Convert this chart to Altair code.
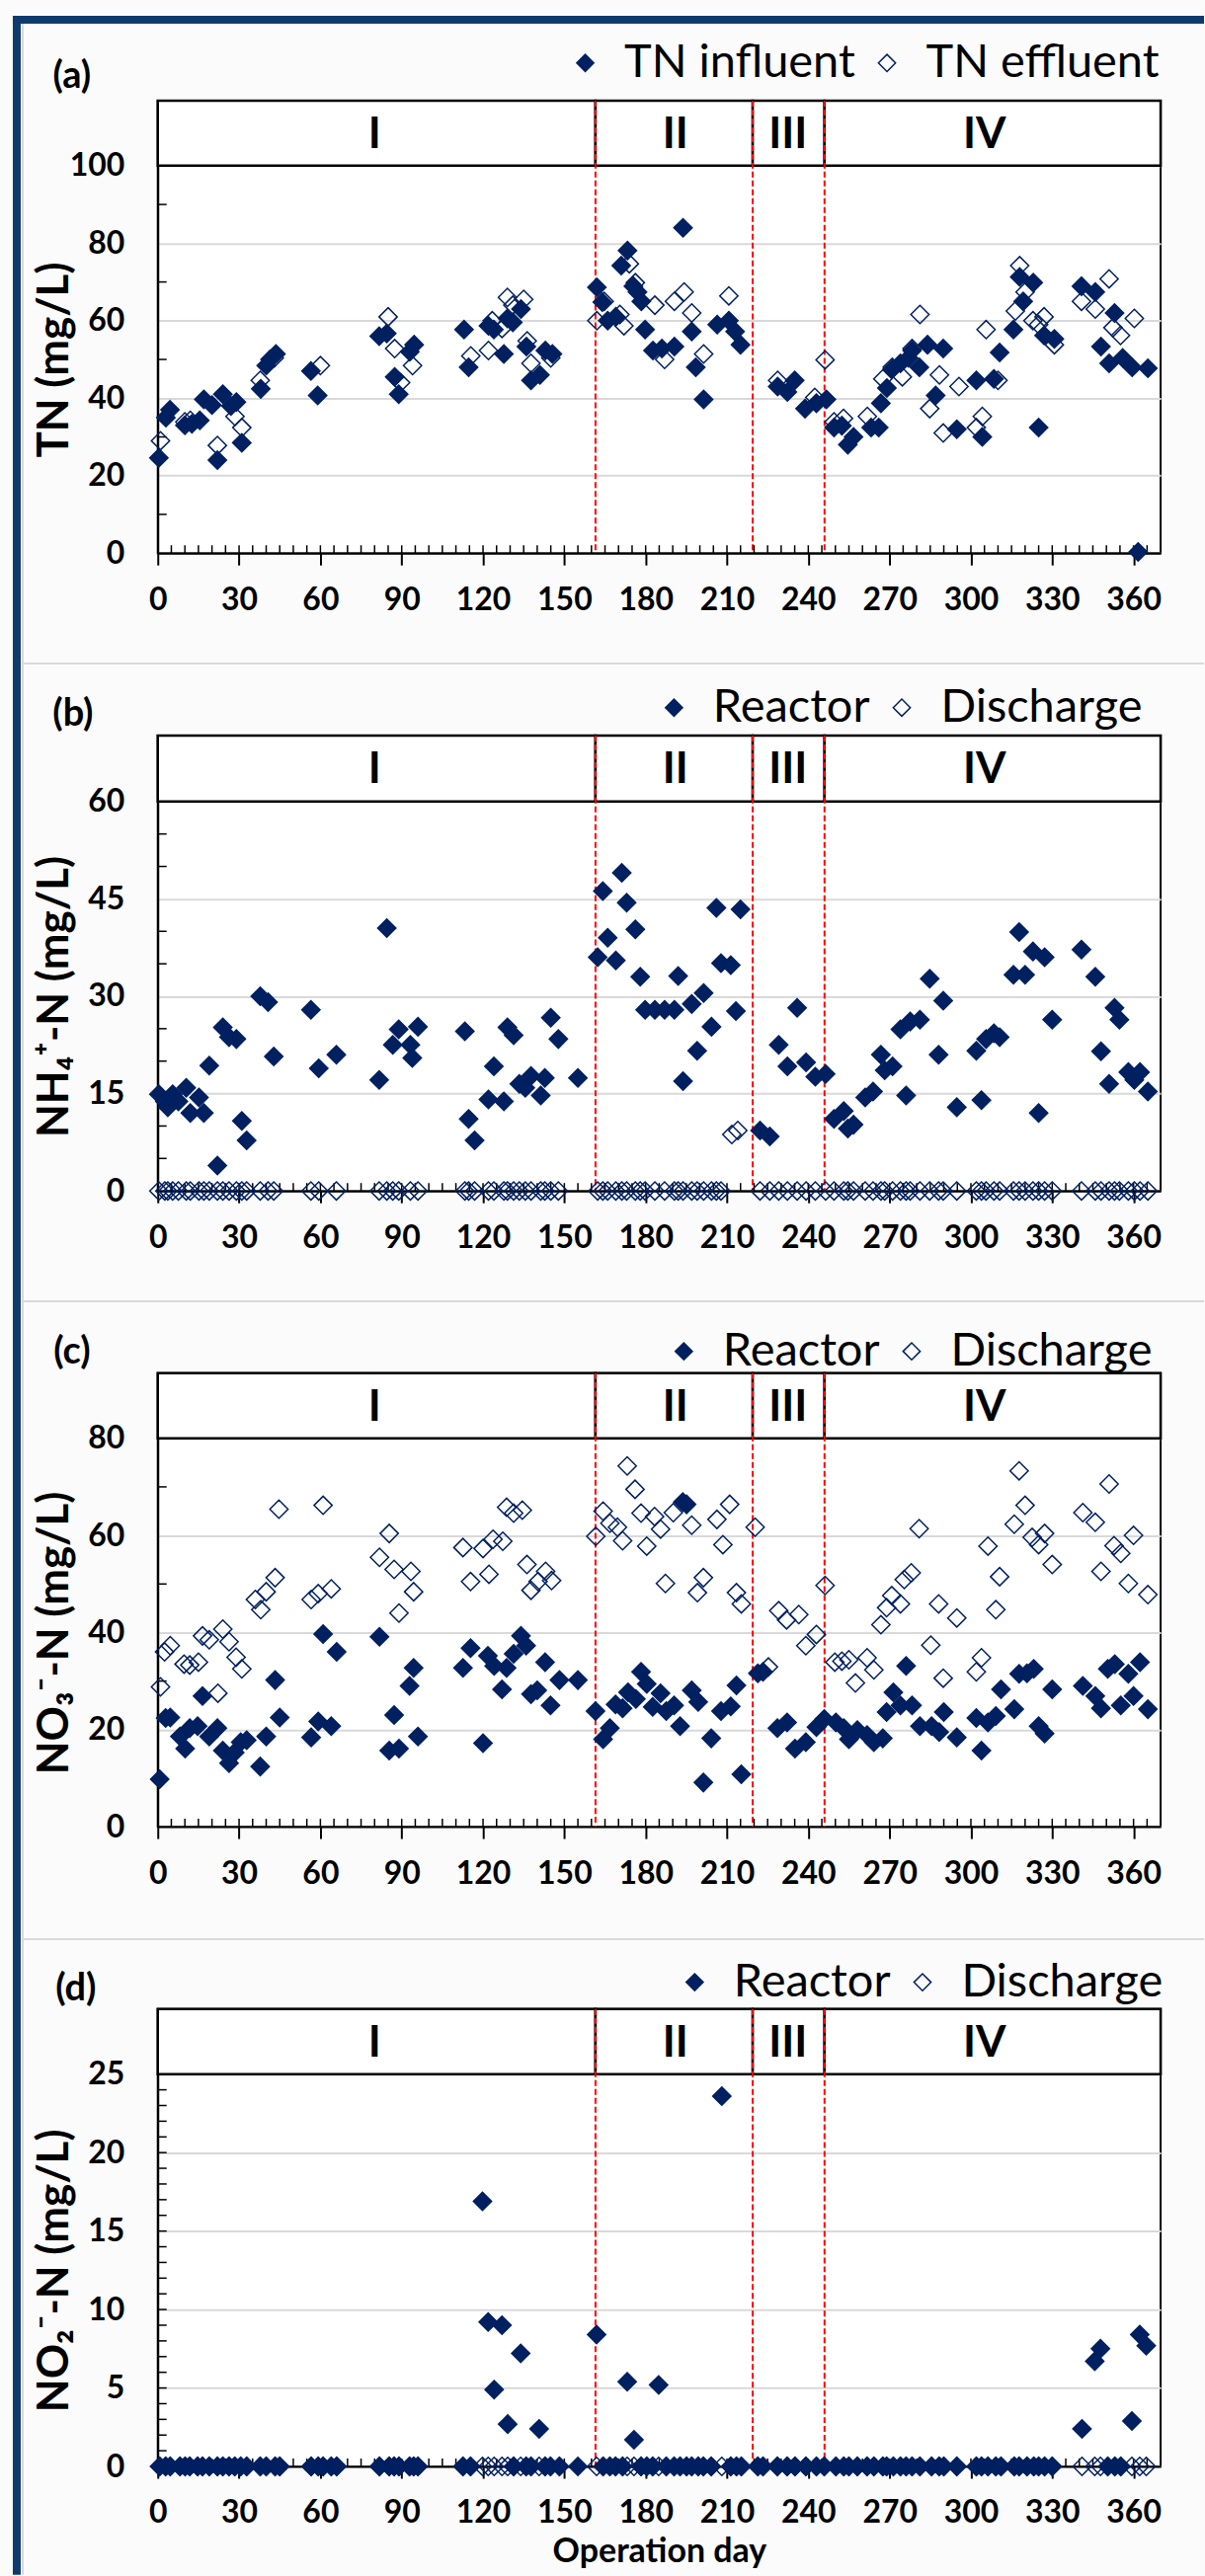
import altair as alt
import pandas as pd

NAVY = "#002060"
BORDER = "#0d3b6d"
RED = "#ff0000"
GRID = "#d9d9d9"
FONT = "Lato"

# ---------------- shared phase info ----------------
PHASE_NAMES = ["I", "II", "III", "IV"]
PHASE_START = [0, 161.5, 219.5, 246]
PHASE_END = [161.5, 219.5, 246, 370]
PHASE_LABEL_DAY = [80, 191, 232.5, 305]
BOUNDARY_DAYS = [161.5, 219.5, 246]
X_TICKS = [0, 30, 60, 90, 120, 150, 180, 210, 240, 270, 300, 330, 360]
X_MINOR = list(range(5, 370, 5))

# ---------------- (a) TN ----------------
TN_IN_DAY = [0.4, 3, 4.5, 10, 12.6, 15.5, 17, 20, 22, 24, 27, 29, 31, 38, 40, 41.4, 43.6, 56.5, 59,
             81.7, 84.5, 87.4, 88.9, 93, 94.6, 113, 114.7, 122, 124, 127.7, 129, 131, 134, 136, 137.7,
             141, 143, 145.6, 162, 164, 166, 169, 171, 173.3, 175.5, 177, 178.4, 179.8, 182.7, 186,
             190.6, 193.8, 197, 198.5, 201.4, 206.4, 210.7, 213, 215, 228.7, 232.3, 235, 238.8, 243,
             246.7, 249.5, 252.4, 254.6, 256.7, 263.2, 266, 266.8, 269, 271, 274, 277, 278.3, 281, 284,
             287, 289.8, 294.8, 302, 304.2, 308.5, 310.6, 315.7, 318, 319.3, 323, 325, 327, 330.8,
             340.8, 345.9, 348, 351, 353, 356, 359.5, 361.7, 365.3]
TN_IN = [24.6, 35, 37, 33, 33.4, 34.3, 39.7, 38.2, 24, 41, 38, 39, 28.5, 42.4, 48.4, 50, 51.4, 47, 40.7,
         56, 56.7, 45.5, 41, 52, 53.8, 57.7, 48, 58.7, 57.7, 51.4, 60.6, 59.6, 63, 53.3, 44.6,
         46, 52.3, 51.4, 68.6, 64.8, 60, 61, 74.2, 78.1, 68.9, 67.4, 65, 57.7, 52.3, 52.8,
         53.3, 84, 57.2, 48, 39.7, 59, 60, 57.2, 53.8, 43, 41.6, 44.6, 37.3, 38.7,
         39.7, 32.4, 32.9, 28, 30, 32.4, 32.4, 38.7, 42.6, 47.5, 49, 50.4, 52.3, 48, 53.8,
         40.7, 52.8, 32, 44.6, 30, 45, 51.8, 57.7, 71.3, 65, 69.8, 32.4, 56.2, 55.3,
         68.9, 67.4, 53.3, 49, 62, 50.4, 48, 0.3, 47.7]
TN_EFF_DAY = [1, 10, 12, 22, 28.5, 31, 37.8, 43, 60, 85, 87.4, 89.6, 94, 115.5, 122, 123.4, 127, 129, 131,
              135, 136.3, 137.7, 145, 162, 164.7, 170.5, 172, 174, 176.2, 183.4, 187, 190.6, 194.2, 197,
              201.4, 210.7, 228.7, 242.4, 246.2, 249.5, 253, 261.8, 267.5, 271, 274.7, 278.3, 281.2,
              284.8, 288.4, 289.8, 295.6, 302, 304.2, 305.6, 310, 316.4, 318, 320, 322.9, 325, 327,
              330.8, 340.8, 345.9, 351, 352.4, 355.2, 360.3]
TN_EFF = [29, 33.9, 34.3, 27.8, 35.3, 32.4, 44.6, 50.4, 48.4, 61, 52.8, 44, 48.4, 50.9, 52.3, 60, 58, 66, 64,
          65.5, 54.8, 49, 50.4, 60, 65, 61.6, 58.7, 74.7, 69.8, 64, 50, 65, 67.4, 62,
          51.4, 66.4, 44.6, 40.2, 49.9, 33.9, 34.8, 35.3, 45, 48, 45.5, 52.8, 61.6,
          37.3, 46, 31, 43, 32.4, 35.3, 57.7, 44.6, 62.5, 74.2, 67.4, 60, 59, 61,
          53.8, 65, 63, 70.8, 58.2, 56.2, 60.6]

# ---------------- (b) NH4+-N ----------------
NH4_R_DAY = [0.4, 2.6, 3.7, 5.5, 7.6, 10.5, 12, 15.2, 17, 19, 22, 24, 26.3, 29, 31, 32.8, 37.8, 40.7, 42.8,
             56.5, 59.4, 65.9, 81.7, 84.5, 86.7, 88.9, 93.2, 93.9, 96, 113.3, 114.7, 116.9, 122, 124,
             127.7, 129, 131.3, 133.4, 135.6, 137.7, 141.3, 142.8, 145, 147.8, 155, 162.3, 164.2, 166,
             169, 171.2, 173, 176.2, 178, 179.8, 183.4, 187, 190.6, 192, 193.8, 197, 199, 201.4, 204.3,
             206.1, 207.8, 211.4, 213.3, 215, 222.2, 225.8, 229.1, 232.3, 235.9, 239.2, 242.6, 246.4,
             249.5, 253.1, 254.6, 256.7, 261, 263.9, 266.8, 268.2, 271.1, 274, 276.1, 277.6, 281.2,
             284.8, 288.1, 289.8, 294.8, 302, 303.9, 305.6, 308.5, 310.6, 315.7, 317.8, 320, 322.9,
             325, 327.2, 330, 340.8, 345.9, 348, 351, 353, 354.8, 358.1, 360.3, 362.4, 365.3]
NH4_R = [14.9, 13.8, 12.9, 14.9, 13.8, 15.9, 12, 14.4, 12, 19.3, 3.9, 25.2, 23.7, 23.4, 10.8, 7.8, 30, 29.1, 20.7,
         27.9, 18.9, 21, 17.1, 40.5, 22.5, 24.9, 22.5, 20.5, 25.3, 24.6, 11.1, 7.8, 14.1, 19.2,
         13.8, 25.2, 24, 16.5, 15.9, 17.7, 14.7, 17.4, 26.7, 23.4, 17.4, 36, 46.2, 39,
         35.5, 49, 44.4, 40.3, 33, 27.9, 27.9, 27.9, 27.9, 33.1, 16.9, 28.8, 21.6, 30.5, 25.3,
         43.6, 35.1, 34.8, 27.7, 43.4, 9.3, 8.4, 22.5, 19.2, 28.2, 19.8, 17.6, 18,
         11.1, 12.3, 9.6, 10.2, 14.4, 15.3, 21, 18.6, 19.2, 24.9, 14.7, 26.1, 26.4,
         32.7, 21, 29.3, 12.9, 21.6, 14, 23.4, 24.3, 23.7, 33.3, 39.9, 33.3, 36.9,
         12, 36, 26.4, 37.2, 33, 21.5, 16.5, 28.2, 26.4, 18.3, 17.1, 18.3, 15.3]
NH4_D_DAY = [0.4, 2.6, 3.7, 5.5, 7.6, 10.5, 12, 15.2, 17, 19, 22, 24, 26.3, 29, 31, 32.8, 37.8, 40.7, 42.8,
             56.5, 59.4, 65.9, 81.7, 84.5, 86.7, 88.9, 93.2, 96, 113.3, 114.7, 116.9, 122, 124,
             127.7, 129, 131.3, 133.4, 135.6, 137.7, 141.3, 142.8, 145, 147.8, 162.3, 164.2, 166,
             169, 171.2, 173, 176.2, 178, 179.8, 183.4, 187, 190.6, 192, 193.8, 197, 199, 201.4, 204.3,
             206.1, 207.8, 211.8, 214, 222.2, 225.8, 229.1, 232.3, 235.9, 239.2, 242.6, 246.4,
             249.5, 253.1, 254.6, 256.7, 261, 263.9, 266.8, 268.2, 271.1, 274, 276.1, 277.6, 281.2,
             284.8, 288.1, 289.8, 294.8, 302, 303.9, 305.6, 308.5, 310.6, 315.7, 317.8, 320, 322.9,
             325, 327.2, 330, 340.8, 345.9, 348, 351, 353, 354.8, 358.1, 360.3, 362.4, 365.3]
NH4_D = [0, 0, 0, 0, 0, 0, 0, 0, 0, 0, 0, 0, 0, 0, 0, 0, 0, 0, 0,
         0, 0, 0, 0, 0, 0, 0, 0, 0, 0, 0, 0, 0, 0,
         0, 0, 0, 0, 0, 0, 0, 0, 0, 0, 0, 0, 0,
         0, 0, 0, 0, 0, 0, 0, 0, 0, 0, 0, 0, 0, 0, 0,
         0, 0, 8.7, 9.3, 0, 0, 0, 0, 0, 0, 0, 0,
         0, 0, 0, 0, 0, 0, 0, 0, 0, 0, 0, 0, 0,
         0, 0, 0, 0, 0, 0, 0, 0, 0, 0, 0, 0, 0,
         0, 0, 0, 0, 0, 0, 0, 0, 0, 0, 0, 0, 0]

# ---------------- (c) NO3--N ----------------
NO3_R_DAY = [0.7, 2.9, 4.6, 8.2, 10.1, 11.8, 14.7, 16.5, 19, 22, 24, 26.3, 28.4, 30.6, 32.8, 37.8, 40, 43.3,
             45, 56.6, 59.2, 61, 64, 66, 81.8, 85.4, 87.2, 89, 92.9, 94.4, 96, 112.6, 115.4, 120, 121.8,
             124.1, 127, 128.7, 131.3, 134, 135.9, 137.7, 140, 142.9, 144.9, 148.2, 155, 161.5, 164.3,
             166.8, 168.9, 171.5, 173.5, 176.4, 178.3, 180.4, 182.6, 185.5, 187.6, 190.5, 192.7, 193.7,
             195.1, 197, 199.4, 201.3, 204.2, 207.8, 211.4, 213.5, 215.3, 221.4, 223.3, 228.6, 232.2,
             235.1, 239.1, 243, 245.9, 250.2, 253.1, 255, 258.1, 261.7, 264.2, 267.5, 268.9, 271.4, 274,
             276.1, 278.3, 281.2, 285.5, 288.3, 290, 294.8, 302, 303.9, 306.3, 309.2, 311.1, 316, 317.8,
             320.7, 323.2, 325, 327.2, 330, 341.3, 345.9, 348, 350.5, 353.1, 355.3, 358.1, 360, 362.4,
             365.3]
NO3_R = [9.8, 22.4, 22.5, 18.6, 16.1, 20.3, 20.7, 26.9, 18.6, 20.3, 15.7, 13.1, 15.3, 17.4, 17.8, 12.4, 18.6, 30.2,
         22.5, 18.4, 21.7, 39.7, 20.7, 36, 39.1, 15.7, 23, 16.1, 29, 32.7, 18.6, 32.7, 36.8, 17.2, 35.2,
         33.1, 28.3, 32.7, 35.6, 39.3, 37.3, 27.3, 28.1, 33.9, 25, 30.2, 30.2, 23.8, 18,
         20.3, 25.2, 24.4, 27.7, 26.3, 31.9, 29.4, 24.7, 27.5, 23.8, 25, 20.7, 66.9,
         66.4, 28.1, 25.7, 9.1, 18.2, 23.8, 24.8, 29.1, 10.8, 31.6, 31.9, 20.3, 21.5,
         16.1, 17.4, 20.5, 22.2, 21.5, 20.3, 18, 19.9, 18.9, 17.4, 18.2, 23.6, 27.7, 25,
         33.1, 25, 20.7, 20.7, 19.5, 23.6, 18.4, 22.4, 15.7, 21.5, 22.8, 28.3, 24.2, 31.5,
         31.6, 32.5, 20.7, 19.2, 28.3, 29, 26.9, 24.4, 32.5, 33.5, 25, 31.5, 26.9, 33.9,
         24.2]
NO3_D_DAY = [1, 2.5, 4.6, 9.7, 11.8, 15, 16.5, 19, 22.2, 24, 26.3, 28.9, 31, 36, 38, 40, 43.3, 44.7, 56.6,
             59.2, 61, 64, 81.8, 85.4, 87.2, 89, 93.4, 94.4, 112.6, 115.4, 120, 122.2, 123.7, 127.3,
             128.7, 131.3, 134.5, 136.2, 137.7, 140.3, 143.1, 145.3, 161.6, 164.3, 166.8, 169.6,
             171.5, 173.2, 176.1, 178.3, 180.4, 183.3, 185.5, 187.3, 190.2, 197, 199.1, 201.3, 206.3,
             208.5, 211, 213.5, 215.3, 220.4, 225.3, 229.1, 232, 236.5, 239.1, 243, 246.2, 249.8,
             252.4, 255, 257.4, 261.7, 264.2, 266.8, 268.9, 270.8, 274, 275.4, 278, 280.9, 285.2,
             288.1, 289.8, 294.8, 302, 303.9, 306.3, 309.2, 310.6, 316, 317.8, 320, 322.6, 325,
             327.2, 330, 341.3, 345.9, 348, 351, 352.8, 355.3, 358.1, 360, 365.3]
NO3_D = [28.8, 36, 37.3, 33.5, 33.3, 33.9, 39.3, 38.5, 27.5, 40.7, 38.1, 34.9, 32.5, 46.8, 44.7, 48.4, 51.3, 65.4, 46.8,
         48, 66.2, 49, 55.5, 60.4, 53, 44, 52.6, 48.4, 57.5, 50.5, 57.3, 52, 59.2, 58.8,
         65.8, 64.6, 65.2, 54, 48.7, 50.5, 52.6, 50.7, 59.8, 65, 62.5, 61.7,
         58.9, 74.3, 69.5, 64.6, 57.8, 63.9, 61.3, 50.1, 64.7, 62.1, 48.2, 51.3, 63.3,
         58.1, 66.4, 48.2, 45.9, 61.7, 32.9, 44.5, 42.6, 43.7, 37.3, 39.6, 49.7, 33.9,
         34.1, 34.4, 29.6, 34.8, 32.3, 41.6, 45.1, 47.6, 45.9, 50.9, 52.3, 61.4, 37.4,
         45.9, 30.6, 43, 31.9, 34.8, 57.8, 44.7, 51.5, 62.3, 73.3, 66.2, 59.6, 58.1,
         60.4, 54, 64.7, 62.7, 52.6, 70.6, 57.9, 56.3, 50.1, 60, 47.8]

# ---------------- (d) NO2--N ----------------
NO2_R_DAY = [0.7, 2.9, 4.6, 8.2, 10.1, 11.8, 14.7, 16.5, 19, 22, 24, 26.3, 28.4, 30.6, 32.8, 37.8, 40, 43.3, 45,
             56.6, 59.2, 61, 64, 66, 81.8, 85.4, 87.2, 89, 92.9, 94.4, 96, 112.6, 115.4, 119.8, 121.9,
             124.1, 127, 129.1, 131.3, 133.9, 135.9, 137.7, 140.7, 142.9, 144.9, 148.2, 155, 161.9,
             164.3, 166.8, 168.9, 171.5, 173.2, 175.7, 178.3, 180.4, 182.6, 184.8, 187.6, 190.5, 192.7,
             195.1, 197, 199.4, 201.3, 204.2, 208.1, 211.4, 213.5, 215.3, 221.4, 223.3, 228.6, 232.2,
             235.1, 239.1, 243, 245.9, 250.2, 253.1, 255, 258.1, 261.7, 264.2, 267.5, 268.9, 271.4, 274,
             276.1, 278.3, 281.2, 285.5, 288.3, 290, 294.8, 302, 303.9, 306.3, 309.2, 311.1, 316, 317.8,
             320.7, 323.2, 325, 327.2, 330, 341, 345.7, 347.8, 350.5, 353.1, 355.3, 359.4, 362.3, 364.7]
NO2_R = [0, 0, 0, 0, 0, 0, 0, 0, 0, 0, 0, 0, 0, 0, 0, 0, 0, 0, 0,
         0, 0, 0, 0, 0, 0, 0, 0, 0, 0, 0, 0, 0, 0, 16.9, 9.2,
         4.9, 9.0, 2.7, 0, 7.2, 0, 0, 2.4, 0, 0, 0, 0, 8.4,
         0, 0, 0, 0, 5.4, 1.7, 0, 0, 0, 5.2, 0, 0, 0,
         0, 0, 0, 0, 0, 23.6, 0, 0, 0, 0, 0, 0, 0,
         0, 0, 0, 0, 0, 0, 0, 0, 0, 0, 0, 0, 0, 0,
         0, 0, 0, 0, 0, 0, 0, 0, 0, 0, 0, 0, 0, 0,
         0, 0, 0, 0, 0, 2.4, 6.7, 7.5, 0, 0, 0, 2.9, 8.4, 7.7]
NO2_D_DAY = [0.7, 2.9, 4.6, 8.2, 10.1, 11.8, 14.7, 16.5, 19, 22, 24, 26.3, 28.4, 30.6, 32.8, 37.8, 40, 43.3, 45,
             56.6, 59.2, 61, 64, 66, 81.8, 85.4, 87.2, 89, 92.9, 94.4, 96, 112.6, 115.4, 119.8, 121.9,
             124.1, 127, 129.1, 131.3, 133.9, 135.9, 137.7, 140.7, 142.9, 144.9, 148.2, 161.9,
             164.3, 166.8, 168.9, 171.5, 173.2, 175.7, 178.3, 180.4, 182.6, 184.8, 187.6, 190.5, 192.7,
             195.1, 197, 199.4, 201.3, 204.2, 208.1, 211.4, 213.5, 215.3, 221.4, 223.3, 228.6, 232.2,
             235.1, 239.1, 243, 245.9, 250.2, 253.1, 255, 258.1, 261.7, 264.2, 267.5, 268.9, 271.4, 274,
             276.1, 278.3, 281.2, 285.5, 288.3, 290, 294.8, 302, 303.9, 306.3, 309.2, 311.1, 316, 317.8,
             320.7, 323.2, 325, 327.2, 330, 341, 345.7, 347.8, 350.5, 353.1, 355.3, 359.4, 362.3, 364.7]
NO2_D = [0, 0, 0, 0, 0, 0, 0, 0, 0, 0, 0, 0, 0, 0, 0, 0, 0, 0, 0,
         0, 0, 0, 0, 0, 0, 0, 0, 0, 0, 0, 0, 0, 0, 0, 0,
         0, 0, 0, 0, 0, 0, 0, 0, 0, 0, 0, 0,
         0, 0, 0, 0, 0, 0, 0, 0, 0, 0, 0, 0, 0,
         0, 0, 0, 0, 0, 0, 0, 0, 0, 0, 0, 0, 0,
         0, 0, 0, 0, 0, 0, 0, 0, 0, 0, 0, 0, 0, 0,
         0, 0, 0, 0, 0, 0, 0, 0, 0, 0, 0, 0, 0, 0,
         0, 0, 0, 0, 0, 0, 0, 0, 0, 0, 0, 0, 0, 0]

W = 1017
XS = alt.Scale(domain=[0, 370], nice=False, zero=False)
phase_df = pd.DataFrame({"name": PHASE_NAMES, "start": PHASE_START, "end": PHASE_END,
                         "mid": PHASE_LABEL_DAY})
bound_df = pd.DataFrame({"day": BOUNDARY_DAYS})
xminor_df = pd.DataFrame({"day": X_MINOR})


def one():
    return alt.Data(values=[{"k": 0}])


def deco_rect(x1, x2, y1, y2, color):
    return alt.Chart(one()).mark_rect(color=color).encode(
        x=alt.value(x1), x2=alt.value(x2), y=alt.value(y1), y2=alt.value(y2))


def panel(names, a_days, a_vals, b_days, b_vals, ymax, majors, minors, H, B, ytitle, label,
          lab_xy, leg_xy, xtitle=None, extra=()):
    ytop = ymax * H / (H - B)
    YS = alt.Scale(domain=[0, ytop], nice=False, zero=False)
    rows = [{"day": d, "val": v, "series": names[0]} for d, v in zip(a_days, a_vals)]
    rows += [{"day": d, "val": v, "series": names[1]} for d, v in zip(b_days, b_vals)]
    df = pd.DataFrame(rows)
    tsize = 32

    xaxis_kw = dict(values=X_TICKS, labelFont=FONT, labelFontSize=tsize, labelFontWeight="bold",
                    labelColor="black", tickSize=12, tickColor="black", tickWidth=2,
                    domainColor="black", domainWidth=2, grid=False, labelPadding=20,
                    labelFlush=False, labelOverlap=False)
    if xtitle:
        xaxis_kw.update(title=xtitle, titleFont=FONT, titleFontSize=34,
                        titleFontWeight="bold", titleColor="black", titleY=87,
                        titleBaseline="middle")
    else:
        xaxis_kw.update(title=None)
    xaxis = alt.Axis(**xaxis_kw)
    yaxis = alt.Axis(values=majors, title=ytitle, titleFont=FONT, titleFontSize=44,
                     titleFontWeight="bold", titleColor="black", titleAngle=270, titleX=-104,
                     titleY=(B + H) / 2, titleAlign="center", titleBaseline="middle",
                     labelFont=FONT, labelFontSize=tsize, labelFontWeight="bold",
                     labelColor="black", labelPadding=34, ticks=False, tickSize=0,
                     domainColor="black", domainWidth=2, grid=True, gridColor=GRID,
                     gridWidth=2, labelFlush=False, labelOverlap=False)

    def X(field):
        return alt.X(field, scale=XS, axis=xaxis)

    def Y(field):
        return alt.Y(field, scale=YS, axis=yaxis)

    band = alt.Chart(phase_df).mark_rect(fill="white", stroke="black", strokeWidth=2.5).encode(
        x=X("start:Q"), x2="end:Q", y=alt.value(0), y2=alt.value(B))
    band_text = alt.Chart(phase_df).mark_text(font=FONT, fontSize=44, fontWeight="bold",
                                              color="black", baseline="middle").encode(
        x=X("mid:Q"), y=alt.value(B / 2 + 2), text="name:N")
    rules = alt.Chart(bound_df).mark_rule(color=RED, strokeWidth=2, strokeDash=[6, 3]).encode(
        x=X("day:Q"), y=alt.value(0), y2=alt.value(H))
    xm = alt.Chart(xminor_df).mark_rule(color="black", strokeWidth=1.5).encode(
        x=X("day:Q"), y=alt.value(H), y2=alt.value(H - 8))
    ym = alt.Chart(pd.DataFrame({"val": minors})).mark_rule(color="black", strokeWidth=1.5).encode(
        y=Y("val:Q"), x=alt.value(0), x2=alt.value(9))
    pts = alt.Chart(df).mark_point(shape="diamond", filled=True, size=340, stroke=NAVY,
                                   strokeWidth=1.5, opacity=1).encode(
        x=X("day:Q"),
        y=Y("val:Q"),
        fill=alt.Fill("series:N", scale=alt.Scale(domain=names, range=[NAVY, "transparent"]),
                      legend=alt.Legend(title=None, orient="none", legendX=leg_xy[0],
                                        legendY=leg_xy[1], direction="horizontal",
                                        labelFont=FONT, labelFontSize=47, labelColor="black",
                                        labelLimit=600, symbolType="diamond", symbolSize=300,
                                        symbolStrokeColor=NAVY, symbolStrokeWidth=1.5,
                                        labelOffset=16, columnPadding=8, padding=0)),
    )
    lab = alt.Chart(alt.Data(values=[{"t": label}])).mark_text(
        font=FONT, fontSize=38, fontWeight="bold", color="black", baseline="middle").encode(
        x=alt.value(lab_xy[0]), y=alt.value(lab_xy[1]), text="t:N")
    layers = list(extra) + [band, band_text, rules, xm, ym, pts, lab]
    return alt.layer(*layers).properties(width=W, height=H)


pa = panel(["TN influent", "TN effluent"], TN_IN_DAY, TN_IN, TN_EFF_DAY, TN_EFF,
           100, [0, 20, 40, 60, 80, 100], [10, 30, 50, 70, 90], 459, 66, "TN (mg/L)", "(a)",
           (-87, -24), (410, -62),
           extra=[deco_rect(-147, -139, -86, 2510, BORDER), deco_rect(-147, 1061, -86, -78, BORDER),
                  deco_rect(-138, -136, -78, 2510, GRID)])
pb = panel(["Reactor", "Discharge"], NH4_R_DAY, NH4_R, NH4_D_DAY, NH4_D,
           60, [0, 15, 30, 45, 60], [5, 10, 20, 25, 35, 40, 50, 55], 462, 67,
           "NH\u2084\u207a-N (mg/L)", "(b)", (-86, -21), (500, -52),
           extra=[deco_rect(-136, 1061, -74, -72, GRID)])
pc = panel(["Reactor", "Discharge"], NO3_R_DAY, NO3_R, NO3_D_DAY, NO3_D,
           80, [0, 20, 40, 60, 80], [10, 30, 50, 70], 460, 66,
           "NO\u2083\u207b-N (mg/L)", "(c)", (-87, -21), (510, -46),
           extra=[deco_rect(-136, 1061, -74, -72, GRID)])
pd_ = panel(["Reactor", "Discharge"], NO2_R_DAY, NO2_R, NO2_D_DAY, NO2_D,
            25, [0, 5, 10, 15, 20, 25], list(range(1, 25)), 464, 66,
            "NO\u2082\u207b-N (mg/L)", "(d)", (-83, -20), (521, -51),
            xtitle="Operation day",
            extra=[deco_rect(-136, 1061, -72, -70, GRID)])

chart = alt.vconcat(pa, pb, pc, pd_, spacing=185, bounds="flush",
                    padding={"left": 12, "top": 13, "right": 0, "bottom": 0},
                    background="#fbfbfb").resolve_scale(fill="independent").resolve_legend(
    fill="independent").configure_view(stroke="black", strokeWidth=2, fill="white")

chart.save("out.html", embed_options={"renderer": "svg", "actions": False})
